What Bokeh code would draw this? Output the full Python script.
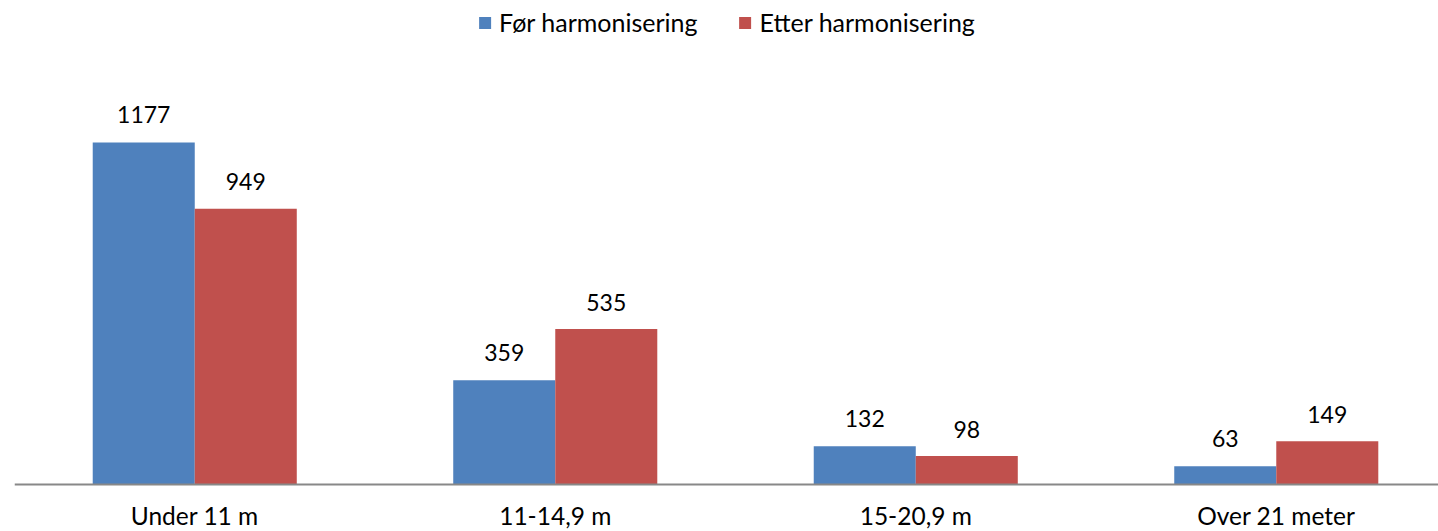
from bokeh.plotting import figure
from bokeh.models import ColumnDataSource, Range1d, Span, Legend, LegendItem
from bokeh.core.properties import value
from bokeh.embed import file_html
from bokeh.resources import INLINE

categories = ["Under 11 m", "11-14,9 m", "15-20,9 m", "Over 21 meter"]
series_names = ["Før harmonisering", "Etter harmonisering"]
before = [1177, 359, 132, 63]
after = [949, 535, 98, 149]

BLUE = "#4F81BD"
RED = "#C0504D"
FONT = "Lato"
FS_NUM = "23px"
FS_TXT = "25px"
FS_CAT = "24.5px"

xc = [i + 0.5 for i in range(len(categories))]
bw = 0.283
off = 0.1415

src = ColumnDataSource(dict(
    cat=categories,
    xb=[x - off for x in xc],
    xa=[x + off for x in xc],
    xc=xc,
    before=before,
    after=after,
    lb=[str(v) for v in before],
    la=[str(v) for v in after],
    zero=[0] * len(categories),
))

p = figure(width=1438, height=531, output_backend="svg", toolbar_location=None,
           x_range=Range1d(0, 3.950), y_range=Range1d(-161.7, 1665.5),
           min_border_left=14, min_border_right=0, min_border_top=0, min_border_bottom=0)
p.xaxis.visible = False
p.yaxis.visible = False
p.grid.visible = False
p.outline_line_color = None
p.background_fill_color = "white"
p.border_fill_color = "white"

rb = p.vbar(x="xb", top="before", width=bw, bottom=0, source=src, fill_color=BLUE, line_color=None)
ra = p.vbar(x="xa", top="after", width=bw, bottom=0, source=src, fill_color=RED, line_color=None)

p.add_layout(Span(location=0, dimension="width", line_color="#888888", line_width=2))

p.text(x="xb", y="before", text="lb", source=src, text_align="center", text_baseline="middle",
       y_offset=-28, text_font=value(FONT), text_font_size=FS_NUM, text_color="#000000")
p.text(x="xa", y="after", text="la", source=src, text_align="center", text_baseline="middle",
       y_offset=-27, text_font=value(FONT), text_font_size=FS_NUM, text_color="#000000")
p.text(x="xc", y="zero", text="cat", source=src, text_align="center", text_baseline="middle",
       y_offset=31, text_font=value(FONT), text_font_size=FS_CAT, text_color="#000000")

legend = Legend(items=[LegendItem(label=series_names[0], renderers=[rb]),
                       LegendItem(label=series_names[1], renderers=[ra])],
                orientation="horizontal", location="top_center",
                glyph_width=15, glyph_height=15, label_standoff=7, spacing=40,
                margin=7, padding=2, border_line_color=None, background_fill_alpha=0,
                label_text_font=FONT, label_text_font_size=FS_TXT, label_text_color="#000000")
p.add_layout(legend)

open("out.html", "w").write(file_html(p, INLINE))
